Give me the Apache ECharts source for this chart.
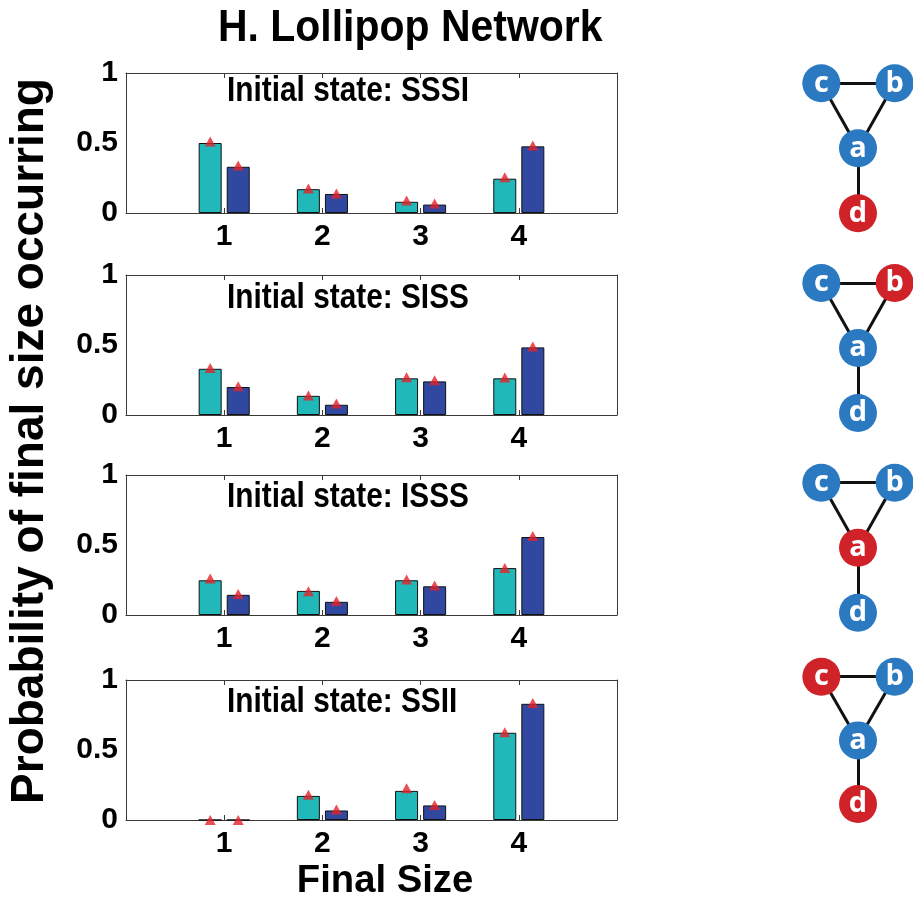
<!DOCTYPE html>
<html>
<head>
<meta charset="utf-8">
<script src="https://cdn.jsdelivr.net/npm/echarts@6/dist/echarts.min.js"></script>
<style>
  html, body { margin: 0; padding: 0; background: #ffffff; }
  #chart { width: 913px; height: 904px; }
</style>
</head>
<body>
<div id="chart"></div>
<script>
// Final epidemic size distributions on the lollipop network (nodes a, b, c, d)
const finalSizes = ['1', '2', '3', '4'];
const initialStates = ['SSSI', 'SISS', 'ISSS', 'SSII'];

// Bar heights (teal and blue groups) and triangle markers for each initial state
const sssiTeal = [0.50, 0.17, 0.08, 0.245];
const sssiBlue = [0.33, 0.136, 0.06, 0.476];
const sssiTealMark = [0.51, 0.175, 0.09, 0.255];
const sssiBlueMark = [0.34, 0.14, 0.067, 0.483];

const sissTeal = [0.33, 0.137, 0.262, 0.262];
const sissBlue = [0.20, 0.073, 0.24, 0.483];
const sissTealMark = [0.335, 0.14, 0.27, 0.267];
const sissBlueMark = [0.205, 0.083, 0.248, 0.49];

const isssTeal = [0.248, 0.172, 0.248, 0.335];
const isssBlue = [0.144, 0.094, 0.205, 0.557];
const isssTealMark = [0.26, 0.17, 0.253, 0.335];
const isssBlueMark = [0.15, 0.10, 0.21, 0.564];

const ssiiTeal = [0, 0.172, 0.208, 0.623];
const ssiiBlue = [0, 0.068, 0.104, 0.83];
const ssiiTealMark = [0, 0.18, 0.226, 0.627];
const ssiiBlueMark = [0, 0.075, 0.108, 0.835];

const tealBars = [sssiTeal, sissTeal, isssTeal, ssiiTeal];
const blueBars = [sssiBlue, sissBlue, isssBlue, ssiiBlue];
const tealMarks = [sssiTealMark, sissTealMark, isssTealMark, ssiiTealMark];
const blueMarks = [sssiBlueMark, sissBlueMark, isssBlueMark, ssiiBlueMark];

// Network drawing: node names, layout coordinates (abstract units) and edges
const nodeNames = ['a', 'b', 'c', 'd'];
const nodeX = [1, 2, 0, 1];
const nodeY = [1, 2, 2, 0];
const edges = [['c', 'b'], ['c', 'a'], ['b', 'a'], ['a', 'd']];

// ---- layout & styling ----
const TEAL = '#20b8b8';
const BLUE = '#3048a0';
const RED_MARK = '#e3222a';
const NODE_BLUE = '#2a79c1';
const NODE_RED = '#d02229';
const AXIS_COLOR = '#3a3a3a';
const TICK_FONT = '"Liberation Sans Narrow", "Liberation Sans", Arial, sans-serif';
const BIG_FONT = '"Liberation Sans", Arial, sans-serif';

const plotLeft = 126, plotWidth = 491, plotHeight = 140;
const plotTops = [73, 275, 475, 680];
const netTops = [50.8, 250.5, 450.2, 644.9];
const netHeights = [195, 195, 195, 191];
const titleY = [91, 298, 497.5, 702.5];

const axisCats = [''].concat(finalSizes, [' ']);

const grids = [], xAxes = [], yAxes = [], series = [];

const tickStyle = { inside: true, length: 5, lineStyle: { color: AXIS_COLOR, width: 1 } };
const lineStyleAxis = { show: true, onZero: false, lineStyle: { color: AXIS_COLOR, width: 1 } };

for (let i = 0; i < 4; i++) {
  grids.push({ left: plotLeft, width: plotWidth, top: plotTops[i], height: plotHeight });
  xAxes.push({
    type: 'category', gridIndex: i, data: axisCats, boundaryGap: false, position: 'bottom',
    axisLine: lineStyleAxis, axisTick: Object.assign({ interval: 0 }, tickStyle),
    axisLabel: { interval: 0, margin: 9, color: '#000', fontWeight: 'bold', fontSize: 30, fontFamily: TICK_FONT },
    splitLine: { show: false }
  });
  xAxes.push({
    type: 'category', gridIndex: i, data: axisCats, boundaryGap: false, position: 'top',
    axisLine: lineStyleAxis, axisTick: Object.assign({ interval: 0 }, tickStyle),
    axisLabel: { show: false }, splitLine: { show: false }
  });
  yAxes.push({
    type: 'value', gridIndex: i, min: 0, max: 1, interval: 0.5, position: 'left',
    axisLine: lineStyleAxis, axisTick: tickStyle,
    axisLabel: { margin: 8, color: '#000', fontWeight: 'bold', fontSize: 30, fontFamily: TICK_FONT },
    splitLine: { show: false }
  });
  yAxes.push({
    type: 'value', gridIndex: i, min: 0, max: 1, interval: 0.5, position: 'right',
    axisLine: lineStyleAxis, axisTick: tickStyle,
    axisLabel: { show: false }, splitLine: { show: false }
  });

  const pairs = arr => arr.map((v, k) => [finalSizes[k], v]);
  const common = { xAxisIndex: 2 * i, yAxisIndex: 2 * i, animation: false, silent: true };

  series.push(Object.assign({
    type: 'bar', name: 'teal ' + initialStates[i], data: pairs(tealBars[i]),
    barWidth: 23, barGap: '22%',
    itemStyle: { color: TEAL, borderColor: '#111', borderWidth: 1 }
  }, common));
  series.push(Object.assign({
    type: 'bar', name: 'blue ' + initialStates[i], data: pairs(blueBars[i]),
    barWidth: 23, barGap: '22%',
    itemStyle: { color: BLUE, borderColor: '#111', borderWidth: 1 }
  }, common));
  series.push(Object.assign({
    type: 'scatter', name: 'teal marker ' + initialStates[i], data: pairs(tealMarks[i]),
    symbol: 'triangle', symbolSize: [11, 10], symbolOffset: [-14, 0], z: 5,
    itemStyle: { color: RED_MARK }
  }, common));
  series.push(Object.assign({
    type: 'scatter', name: 'blue marker ' + initialStates[i], data: pairs(blueMarks[i]),
    symbol: 'triangle', symbolSize: [11, 10], symbolOffset: [14, 0], z: 5,
    itemStyle: { color: RED_MARK }
  }, common));
}

// Hidden coordinate systems for the four network diagrams
for (let i = 0; i < 4; i++) {
  const gi = 4 + i;
  grids.push({ left: 803, width: 110, top: netTops[i], height: netHeights[i] });
  xAxes.push({ type: 'value', gridIndex: gi, min: -0.5, max: 2.5, show: false });
  yAxes.push({ type: 'value', gridIndex: gi, min: -0.5, max: 2.5, show: false });
  const state = initialStates[i];
  series.push({
    type: 'graph', coordinateSystem: 'cartesian2d', xAxisIndex: 8 + i, yAxisIndex: 8 + i,
    silent: true, animation: false, symbol: 'circle', symbolSize: 38,
    data: nodeNames.map((n, k) => ({
      name: n, value: [nodeX[k], nodeY[k]],
      itemStyle: { color: state[k] === 'I' ? NODE_RED : NODE_BLUE }
    })),
    links: edges.map(([s, t]) => ({ source: s, target: t })),
    lineStyle: { color: '#111', width: 3, opacity: 1, curveness: 0 },
    label: {
      show: true, position: 'inside', color: '#ffffff', fontSize: 29, fontWeight: 'bold',
      fontFamily: '"Open Sans", "Noto Sans", sans-serif', formatter: '{b}'
    }
  });
}

const textEl = (text, x, y, size, scaleX, align, rotation) => ({
  type: 'text', x: x, y: y, scaleX: scaleX, rotation: rotation || 0, silent: true,
  style: {
    text: text, fill: '#000', font: 'bold ' + size + 'px ' + BIG_FONT,
    align: align, textAlign: align, verticalAlign: 'middle', textVerticalAlign: 'middle'
  }
});

const graphics = [
  textEl('H. Lollipop Network', 218, 29, 45, 0.91, 'left'),
  textEl('Probability of final size occurring', 30, 441, 46, 1, 'center', Math.PI / 2),
  textEl('Final Size', 385, 881, 39, 0.98, 'center')
];
for (let i = 0; i < 4; i++) {
  graphics.push(textEl('Initial state: ' + initialStates[i], 227, titleY[i], 35, 0.852, 'left'));
}

const chart = echarts.init(document.getElementById('chart'), null, { renderer: 'canvas' });
chart.setOption({
  animation: false,
  backgroundColor: '#ffffff',
  grid: grids,
  xAxis: xAxes,
  yAxis: yAxes,
  series: series,
  graphic: graphics
});
</script>
</body>
</html>
